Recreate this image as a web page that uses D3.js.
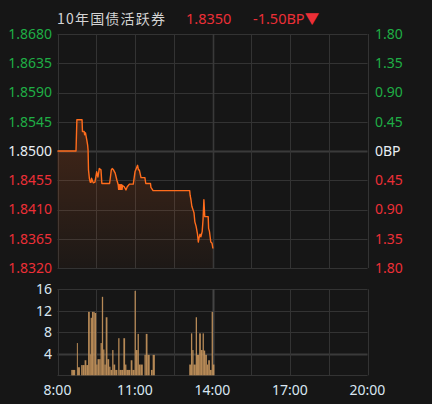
<!DOCTYPE html>
<html>
<head>
<meta charset="utf-8">
<script src="https://cdn.jsdelivr.net/npm/d3@7"></script>
<style>
  html, body { margin: 0; padding: 0; background: #161616; }
  svg { display: block; }
  text { font-family: "Noto Sans", "Noto Sans CJK SC", sans-serif; }
</style>
</head>
<body>
<svg id="chart" width="432" height="404"></svg>
<script>
// ---------- data ----------
const title = "10年国债活跃券";
const lastPrice = "1.8350";
const changeText = "-1.50BP▼";
const basePrice = 1.8500;

// price line: [minutes after 8:00, price]
const priceMinutes = [0, 43, 45, 57, 58, 62, 63, 65, 68, 70, 71, 72, 74, 76, 78, 79, 83, 87, 91, 94, 97, 101, 103, 121, 125, 127, 130, 134, 138, 141,
  142, 143, 144, 145, 146, 147, 148, 149, 150, 151, 155, 159, 162, 167, 176, 180, 186, 188, 190, 194, 203, 205, 216, 217, 222,
  307, 308, 310, 312, 315, 317, 319, 322, 325, 327, 329, 331, 333, 336, 338, 340, 342, 350, 351, 353, 356, 359, 361];
const priceValues = [1.8500, 1.8500, 1.8548, 1.8548, 1.8530, 1.8530, 1.8525, 1.8528, 1.8517, 1.8509, 1.8502, 1.8471, 1.8458, 1.8452, 1.8452, 1.8458, 1.8451, 1.8452, 1.8468, 1.8460, 1.8473, 1.8471, 1.8450, 1.8450, 1.8471, 1.8473, 1.8471, 1.8466, 1.8455, 1.8448,
  1.8441, 1.8448, 1.8441, 1.8448, 1.8441, 1.8448, 1.8441, 1.8448, 1.8441, 1.8447, 1.8445, 1.8440, 1.8445, 1.8449, 1.8449, 1.8468, 1.8478, 1.8471, 1.8471, 1.8459, 1.8459, 1.8450, 1.8450, 1.8444, 1.8439,
  1.8439, 1.8432, 1.8425, 1.8415, 1.8409, 1.8405, 1.8391, 1.8384, 1.8373, 1.8360, 1.8367, 1.8372, 1.8368, 1.8376, 1.8394, 1.8425, 1.8399, 1.8399, 1.8381, 1.8376, 1.8360, 1.8358, 1.8350];

// volume bars: [minutes after 8:00, volume]
const volMinutes = [32, 34, 36, 45, 47, 55, 58, 63, 67, 71, 75, 77, 80, 84, 86, 90, 93, 97, 100, 103, 106, 109, 112, 116, 120, 123, 127, 130, 134, 141, 144, 148, 153, 157, 160, 164, 170, 174, 179, 182, 186, 189, 193, 202, 205, 209, 217, 221,
  306, 310, 313, 316, 321, 324, 329, 333, 337, 340, 343, 347, 350, 354, 358, 361];
const volValues = [1, 1, 1, 6, 1.5, 1.9, 1.9, 2.8, 1.9, 11.8, 3.9, 10.7, 11.8, 11.8, 11.6, 2, 3, 3, 6, 14.6, 4.8, 2, 10.8, 3, 1.6, 1, 4.7, 2, 1, 6.9, 1, 1, 6.9, 2, 1, 1, 2.8, 1, 15.7, 4.7, 7.7, 2, 2, 3.8, 7.7, 3.8, 1, 3.8,
  2, 7.8, 4.7, 2, 10.8, 3.8, 7.8, 4.7, 7.8, 4.6, 3.8, 2, 2.8, 1, 11.8, 2];

// axis ticks
const leftTicks = [1.8680, 1.8635, 1.8590, 1.8545, 1.8500, 1.8455, 1.8410, 1.8365, 1.8320];
const rightTickLabels = ["1.80", "1.35", "0.90", "0.45", "0BP", "0.45", "0.90", "1.35", "1.80"];
const volTicks = [16, 12, 8, 4];
const timeTicks = [0, 180, 360, 540, 720];
const timeTickLabels = ["8:00", "11:00", "14:00", "17:00", "20:00"];
const gridMinutes = [0, 90, 180, 270, 360, 450, 540, 630, 720];
const currentMinute = 360;

// ---------- layout ----------
const L = 57.5, R = 367.5;
const mainTop = 34, mainBot = 268;
const volTop = 289.3, volBot = 375.3;

const GREEN = "#1fae45", RED = "#ec2f37", WHITE = "#e9eef4", AXIS = "#d9e6f2";
const GRID = "#333333";

const svg = d3.select("#chart");
svg.append("rect").attr("width", 432).attr("height", 404).attr("fill", "#161616");

const x = d3.scaleLinear().domain([0, 720]).range([L, R]);
const y = d3.scaleLinear().domain([1.8320, 1.8680]).range([mainBot, mainTop]);
const yv = d3.scaleLinear().domain([0, 16]).range([volBot, volTop]);

// ---------- title ----------
svg.append("text").attr("x", 57).attr("y", 24).attr("fill", "#d4d4d4")
  .style("font-family", "'Noto Sans CJK SC', sans-serif").attr("font-size", 14)
  .attr("letter-spacing", 1.2).text(title);
svg.append("text").attr("x", 186).attr("y", 24).attr("fill", RED).attr("font-size", 14.5).text(lastPrice);
svg.append("text").attr("x", 253).attr("y", 24).attr("fill", RED).attr("font-size", 14.5).text(changeText);

// ---------- main grid ----------
const gMain = svg.append("g");
gMain.selectAll("line.h").data(leftTicks).join("line")
  .attr("x1", L).attr("x2", R)
  .attr("y1", d => Math.round(y(d)) + 0.5).attr("y2", d => Math.round(y(d)) + 0.5)
  .attr("stroke", d => Math.abs(d - basePrice) < 1e-9 ? "#3a3a3a" : GRID)
  .attr("stroke-width", d => Math.abs(d - basePrice) < 1e-9 ? 2 : 1);
gMain.selectAll("line.v").data(gridMinutes).join("line")
  .attr("y1", mainTop).attr("y2", mainBot)
  .attr("x1", d => Math.round(x(d)) + 0.5).attr("x2", d => Math.round(x(d)) + 0.5)
  .attr("stroke", d => d === currentMinute ? "#393939" : GRID)
  .attr("stroke-width", d => d === currentMinute ? 1.6 : 1);

// ---------- area + line ----------
const pts = priceMinutes.map((m, i) => [m, priceValues[i]]);
const defs = svg.append("defs");
const grad = defs.append("linearGradient").attr("id", "ag")
  .attr("gradientUnits", "userSpaceOnUse").attr("x1", 0).attr("x2", 0)
  .attr("y1", y(d3.max(priceValues))).attr("y2", mainBot);
grad.append("stop").attr("offset", 0).attr("stop-color", "#ff6a1f").attr("stop-opacity", 0.2);
grad.append("stop").attr("offset", 1).attr("stop-color", "#ff6a1f").attr("stop-opacity", 0.03);

svg.append("path").datum(pts)
  .attr("d", d3.area().x(d => x(d[0])).y0(mainBot).y1(d => y(d[1])))
  .attr("fill", "url(#ag)");
svg.append("path").datum(pts)
  .attr("d", d3.line().x(d => x(d[0])).y(d => y(d[1])))
  .attr("fill", "none").attr("stroke", "#ff6c1c").attr("stroke-width", 1.4)
  .attr("stroke-linejoin", "round");

// ---------- left / right labels ----------
svg.selectAll("text.l").data(leftTicks).join("text")
  .attr("x", 52).attr("y", d => y(d) + 1).attr("text-anchor", "end")
  .attr("dominant-baseline", "middle").attr("font-size", 14)
  .attr("fill", d => Math.abs(d - basePrice) < 1e-9 ? WHITE : (d > basePrice ? GREEN : RED))
  .text(d => d.toFixed(4));
svg.selectAll("text.r").data(leftTicks).join("text")
  .attr("x", 375).attr("y", d => y(d) + 1)
  .attr("dominant-baseline", "middle").attr("font-size", 14)
  .attr("fill", d => Math.abs(d - basePrice) < 1e-9 ? WHITE : (d > basePrice ? GREEN : RED))
  .text((d, i) => rightTickLabels[i]);

// ---------- volume panel ----------
const vGrid = [0, 4, 8, 12, 16];
svg.selectAll("line.vh").data(vGrid).join("line")
  .attr("x1", L).attr("x2", R)
  .attr("y1", d => Math.round(yv(d)) + 0.5).attr("y2", d => Math.round(yv(d)) + 0.5)
  .attr("stroke", d => d === 4 ? "#3a3a3a" : GRID)
  .attr("stroke-width", d => d === 4 ? 2 : 1);
svg.selectAll("line.vv").data(gridMinutes).join("line")
  .attr("y1", volTop).attr("y2", volBot)
  .attr("x1", d => Math.round(x(d)) + 0.5).attr("x2", d => Math.round(x(d)) + 0.5)
  .attr("stroke", d => d === currentMinute ? "#444" : GRID)
  .attr("stroke-width", d => d === currentMinute ? 2 : 1);

const vols = volMinutes.map((m, i) => ({ m, v: volValues[i], next: volMinutes[i + 1] }));
svg.append("g").selectAll("rect").data(vols).join("rect")
  .attr("x", d => x(d.m))
  .attr("width", d => {
    const w = d.next !== undefined ? x(d.next) - x(d.m) : 1.5;
    return Math.max(1, Math.min(w, 2.2));
  })
  .attr("y", d => yv(d.v))
  .attr("height", d => volBot - yv(d.v))
  .attr("fill", "#c4945c").attr("opacity", 0.92);

svg.selectAll("text.vt").data(volTicks).join("text")
  .attr("x", 52).attr("y", d => yv(d) + 1).attr("text-anchor", "end")
  .attr("dominant-baseline", "middle").attr("font-size", 14)
  .attr("fill", AXIS).text(d => d);

svg.selectAll("text.xt").data(timeTicks).join("text")
  .attr("x", d => x(d)).attr("y", 395).attr("text-anchor", "middle")
  .attr("font-size", 14).attr("fill", AXIS)
  .text((d, i) => timeTickLabels[i]);
</script>
</body>
</html>
